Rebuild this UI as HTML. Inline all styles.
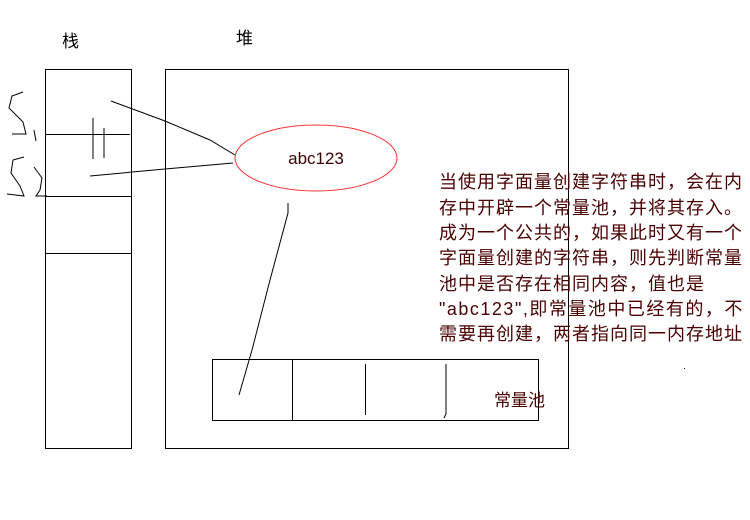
<!DOCTYPE html>
<html><head><meta charset="utf-8"><style>
body{margin:0;background:#fff;}
svg{display:block}
.t{font-family:"Liberation Sans","Noto Sans CJK SC",sans-serif;}
</style></head><body>
<svg width="750" height="520" xmlns="http://www.w3.org/2000/svg">
<g fill="none" stroke="#000" stroke-width="1">
<rect x="45.5" y="69.5" width="86" height="379"/>
<line x1="45" y1="134.5" x2="130" y2="134.5"/>
<line x1="45" y1="196.5" x2="132" y2="196.5"/>
<line x1="45" y1="253.5" x2="131" y2="253.5"/>
<rect x="165.5" y="69.5" width="403" height="379"/>
<rect x="212.5" y="359.5" width="326" height="61"/>
<line x1="292.5" y1="360" x2="292.5" y2="420"/>
<line x1="365.5" y1="364" x2="365.5" y2="415"/>
<path d="M446 364 L446 414 L444 418"/>
<path d="M111 101 L165 121 L210 140 L235 155"/>
<path d="M90 176 L165 169 L233 163"/>
<path d="M288 203 L288 213 L270 280 L252 350 L239 395"/>
<path d="M93 118 L93 159 M104 128 L104 158"/>
<path d="M23 92 L12 96 L9 108 L23 122 L26 134 L12 134 M34 130 L36 141"/>
<path d="M24 157 L13 160 L11 173 L20 186 L24 196 L7 194 M34 167 L42 178 L40 190 L36 196 L47 196"/>
</g>
<ellipse cx="316" cy="158" rx="81" ry="33" fill="none" stroke="#f33" stroke-width="1"/>
<text x="316" y="164" text-anchor="middle" class="t" font-size="17" fill="#3a0000">abc123</text>
<text x="62" y="47" class="t" font-size="17" fill="#000">栈</text>
<text x="236" y="44" class="t" font-size="17" fill="#000">堆</text>
<text x="494" y="406" class="t" font-size="17" fill="#4a0000">常量池</text>
<g class="t" font-size="18" fill="#4a0000" letter-spacing="1">
<text x="439" y="188">当使用字面量创建字符串时，会在内</text>
<text x="439" y="214">存中开辟一个常量池，并将其存入。</text>
<text x="439" y="239">成为一个公共的，如果此时又有一个</text>
<text x="439" y="264">字面量创建的字符串，则先判断常量</text>
<text x="439" y="290">池中是否存在相同内容，值也是</text>
<text x="439" y="315" letter-spacing="1.5">"abc123",即常量池中已经有的，不</text>
<text x="439" y="340">需要再创建，两者指向同一内存地址</text>
</g>
<rect x="684" y="368" width="1" height="1" fill="#000"/>
</svg>
</body></html>
